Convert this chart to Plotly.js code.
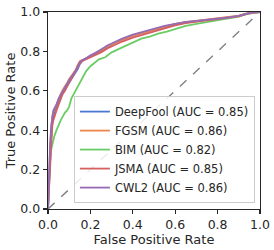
<!DOCTYPE html>
<html>
<head>
<meta charset="utf-8">
<script src="https://cdn.plot.ly/plotly-3.0.1.min.js"></script>
<style>html,body{margin:0;padding:0;background:#fff;}#chart{width:274px;height:250px;}</style>
</head>
<body>
<div id="chart"></div>
<script>
// Series names and AUC labels
const seriesNames = ["DeepFool (AUC = 0.85)", "FGSM (AUC = 0.86)", "BIM (AUC = 0.82)", "JSMA (AUC = 0.85)", "CWL2 (AUC = 0.86)"];
const seriesColors = ["#4878d0", "#ee854a", "#6acc64", "#d65f5f", "#956cb4"];

// False positive rate grid for DeepFool / FGSM / JSMA / CWL2
const fprA = [0, 0.003, 0.006, 0.01, 0.015, 0.02, 0.025, 0.03, 0.04, 0.05, 0.06, 0.07, 0.08, 0.09, 0.10, 0.11, 0.12, 0.13, 0.14, 0.15, 0.16, 0.18, 0.20, 0.22, 0.25, 0.28, 0.31, 0.35, 0.40, 0.45, 0.50, 0.55, 0.60, 0.65, 0.70, 0.75, 0.80, 0.85, 0.90, 0.93, 0.96, 1.0];

const tprDeepFool = [0, 0.08, 0.18, 0.28, 0.36, 0.44, 0.47, 0.49, 0.52, 0.545, 0.57, 0.59, 0.605, 0.62, 0.64, 0.66, 0.675, 0.69, 0.71, 0.735, 0.75, 0.765, 0.775, 0.785, 0.80, 0.82, 0.84, 0.86, 0.88, 0.895, 0.91, 0.925, 0.938, 0.947, 0.955, 0.96, 0.965, 0.972, 0.98, 0.99, 0.997, 1.0];
const tprFGSM = [0, 0.10, 0.22, 0.31, 0.40, 0.47, 0.49, 0.505, 0.53, 0.555, 0.585, 0.605, 0.62, 0.64, 0.66, 0.675, 0.69, 0.705, 0.73, 0.75, 0.755, 0.765, 0.775, 0.79, 0.805, 0.825, 0.84, 0.86, 0.88, 0.895, 0.91, 0.925, 0.94, 0.948, 0.955, 0.962, 0.967, 0.973, 0.982, 0.99, 0.997, 1.0];
const tprJSMA = [0, 0.06, 0.15, 0.25, 0.34, 0.42, 0.45, 0.47, 0.50, 0.53, 0.56, 0.585, 0.60, 0.625, 0.645, 0.66, 0.68, 0.70, 0.72, 0.74, 0.75, 0.76, 0.77, 0.78, 0.795, 0.815, 0.83, 0.85, 0.87, 0.885, 0.90, 0.918, 0.932, 0.943, 0.952, 0.958, 0.964, 0.97, 0.978, 0.988, 0.996, 1.0];
const tprCWL2 = [0, 0.12, 0.25, 0.33, 0.42, 0.48, 0.50, 0.51, 0.53, 0.56, 0.58, 0.60, 0.615, 0.635, 0.655, 0.67, 0.685, 0.70, 0.725, 0.745, 0.755, 0.765, 0.78, 0.79, 0.81, 0.83, 0.845, 0.865, 0.885, 0.90, 0.915, 0.93, 0.94, 0.95, 0.955, 0.96, 0.965, 0.972, 0.98, 0.99, 0.997, 1.0];

// BIM curve
const fprBIM = [0, 0.003, 0.006, 0.01, 0.015, 0.02, 0.03, 0.04, 0.05, 0.06, 0.07, 0.08, 0.09, 0.10, 0.11, 0.12, 0.13, 0.14, 0.15, 0.16, 0.17, 0.18, 0.20, 0.22, 0.24, 0.27, 0.30, 0.33, 0.36, 0.40, 0.44, 0.48, 0.52, 0.56, 0.60, 0.65, 0.70, 0.75, 0.80, 0.85, 0.90, 0.94, 0.97, 1.0];
const tprBIM = [0, 0.08, 0.17, 0.26, 0.30, 0.33, 0.37, 0.40, 0.43, 0.45, 0.47, 0.49, 0.50, 0.52, 0.56, 0.58, 0.60, 0.62, 0.64, 0.66, 0.685, 0.70, 0.725, 0.745, 0.76, 0.77, 0.795, 0.81, 0.825, 0.845, 0.865, 0.875, 0.89, 0.90, 0.915, 0.93, 0.94, 0.95, 0.96, 0.967, 0.977, 0.99, 0.996, 1.0];

// Chance diagonal
const diagX = [0, 1];
const diagY = [0, 1];

const tickVals = [0, 0.2, 0.4, 0.6, 0.8, 1.0];
const tickText = ["0.0", "0.2", "0.4", "0.6", "0.8", "1.0"];

const xs = [fprA, fprA, fprBIM, fprA, fprA];
const ys = [tprDeepFool, tprFGSM, tprBIM, tprJSMA, tprCWL2];

const traces = seriesNames.map((n, i) => ({
  x: xs[i], y: ys[i], name: n, type: 'scatter', mode: 'lines',
  line: {color: seriesColors[i], width: 1.8}
}));
traces.push({x: diagX, y: diagY, type: 'scatter', mode: 'lines', showlegend: false,
  line: {color: '#808080', width: 1.4, dash: 'dash'}});

const font = {family: 'DejaVu Sans, sans-serif', color: '#262626'};
const axisCommon = {
  range: [0, 1], tickvals: tickVals, ticktext: tickText,
  showgrid: false, zeroline: false, showline: true, mirror: true,
  linecolor: '#262626', linewidth: 1.25, ticks: 'outside', ticklen: 4,
  tickwidth: 1.25, tickcolor: '#262626', tickfont: {family: font.family, color: font.color, size: 12.5}
};

const layout = {
  width: 274, height: 250,
  margin: {l: 48, r: 14, t: 12, b: 41},
  paper_bgcolor: '#fff', plot_bgcolor: '#fff',
  font: font,
  xaxis: Object.assign({}, axisCommon, {title: {text: 'False Positive Rate', font: {size: 13}, standoff: 0}}),
  yaxis: Object.assign({}, axisCommon, {title: {text: 'True Positive Rate', font: {size: 13}, standoff: 1}}),
  legend: {x: 0.976, y: 0.03, xanchor: 'right', yanchor: 'bottom',
    bgcolor: 'rgba(255,255,255,0.85)', bordercolor: '#cccccc', borderwidth: 1,
    font: {size: 11.5, family: font.family, color: font.color}},
  showlegend: true
};

Plotly.newPlot('chart', traces, layout, {staticPlot: true, displayModeBar: false});
</script>
</body>
</html>
